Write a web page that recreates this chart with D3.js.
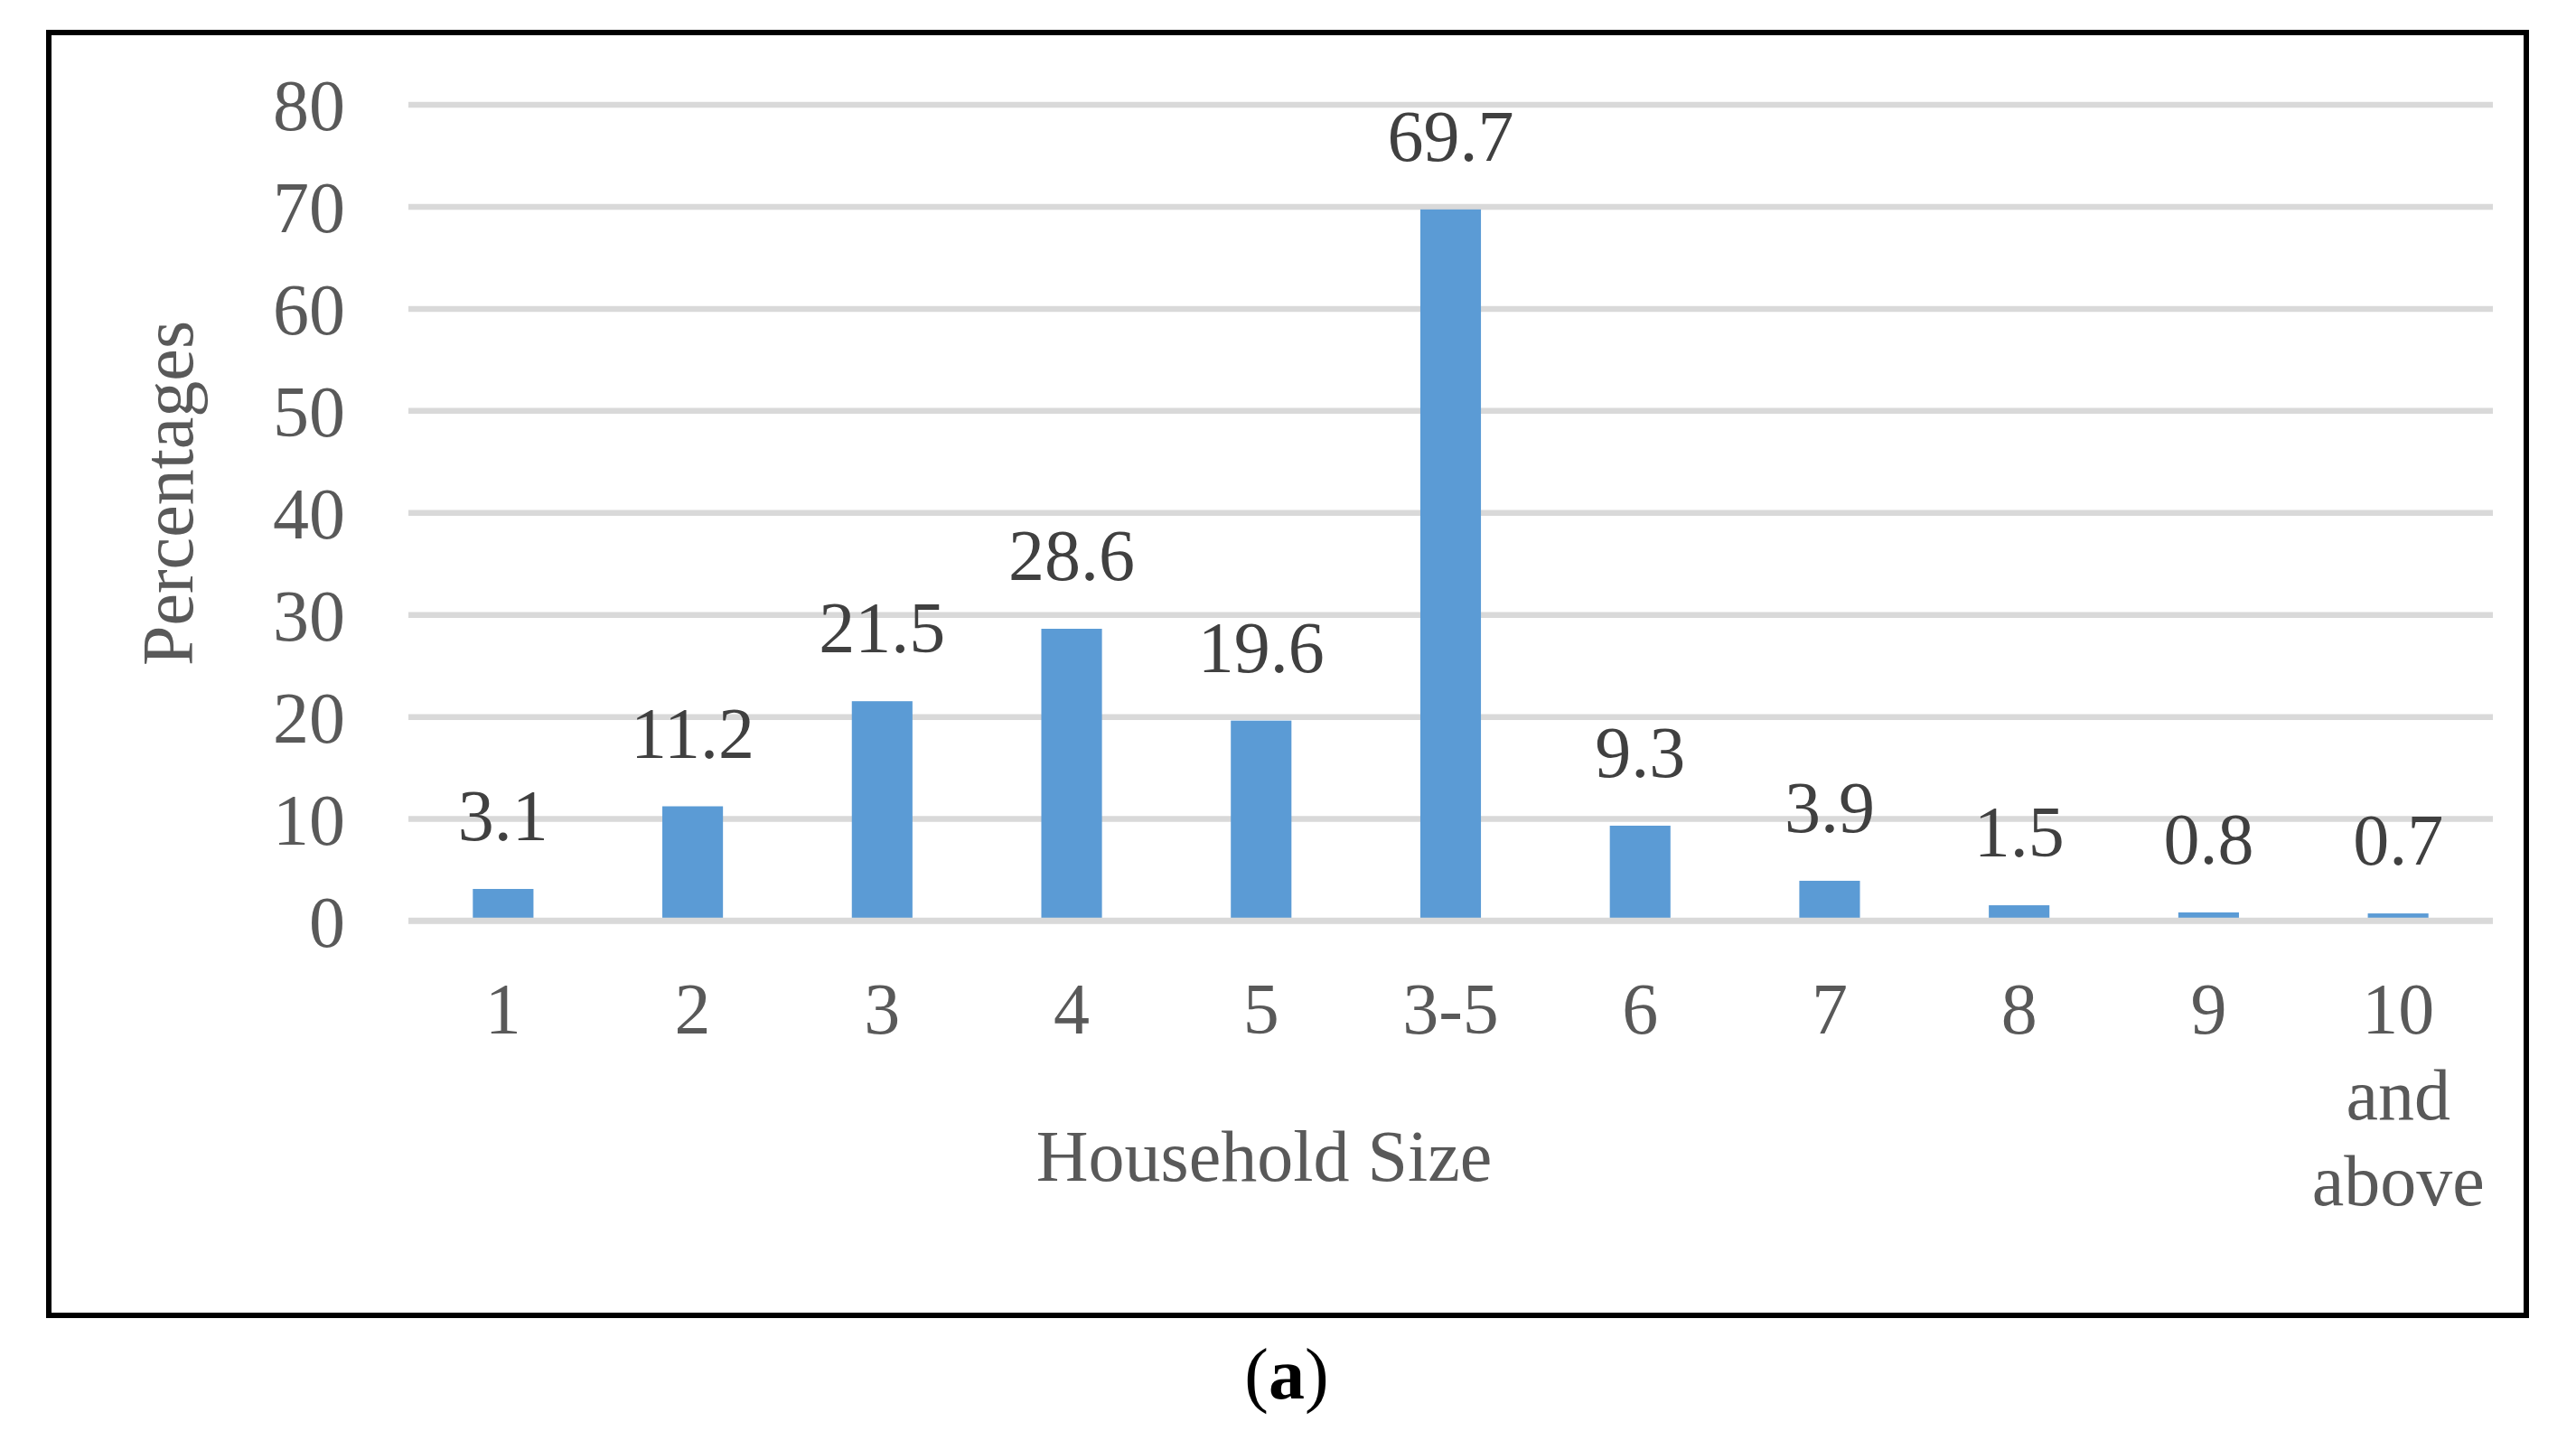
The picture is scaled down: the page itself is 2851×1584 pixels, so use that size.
<!DOCTYPE html>
<html>
<head>
<meta charset="utf-8">
<script src="https://cdn.jsdelivr.net/npm/d3@7"></script>
<style>
  html, body { margin: 0; padding: 0; background: #ffffff; }
  svg { display: block; }
  text { font-family: "Liberation Serif", "Times New Roman", serif; }
</style>
</head>
<body>
<svg id="chart" width="2851" height="1584"></svg>
<script>
// ---- data ----
const categories = ["1", "2", "3", "4", "5", "3-5", "6", "7", "8", "9", "10\nand\nabove"];
const values = [3.1, 11.2, 21.5, 28.6, 19.6, 69.7, 9.3, 3.9, 1.5, 0.8, 0.7];
const valueLabels = ["3.1", "11.2", "21.5", "28.6", "19.6", "69.7", "9.3", "3.9", "1.5", "0.8", "0.7"];
const yTicks = [0, 10, 20, 30, 40, 50, 60, 70, 80];
const yTitle = "Percentages";
const xTitle = "Household Size";
const caption = "a";

// ---- layout ----
const W = 2851, H = 1584;
const plot = { left: 452, right: 2759, top: 115.5, bottom: 1019 };
const fontSize = 80;

const svg = d3.select("#chart");

// frame
svg.append("rect")
  .attr("x", 54).attr("y", 36)
  .attr("width", 2742).attr("height", 1420)
  .attr("fill", "none").attr("stroke", "#000").attr("stroke-width", 6);

const x = d3.scaleBand().domain(categories).range([plot.left, plot.right]).padding(0);
const y = d3.scaleLinear().domain([0, 80]).range([plot.bottom, plot.top]);
const barW = x.bandwidth() * 0.32;

// y axis with gridlines
const yAxis = svg.append("g")
  .attr("transform", `translate(${plot.left},0)`)
  .call(d3.axisLeft(y).tickValues(yTicks).tickSize(-(plot.right - plot.left)).tickPadding(70).tickFormat(d3.format("d")));
yAxis.select(".domain").remove();
yAxis.selectAll(".tick line").attr("stroke", "#d9d9d9").attr("stroke-width", 6.5);
yAxis.selectAll(".tick text")
  .attr("fill", "#595959").attr("font-size", fontSize)
  .attr("font-family", "Liberation Serif, Times New Roman, serif")
  .attr("dy", "0.35em");

// bars
svg.append("g").selectAll("rect")
  .data(values)
  .join("rect")
  .attr("x", (d, i) => x(categories[i]) + (x.bandwidth() - barW) / 2)
  .attr("width", barW)
  .attr("y", d => y(d))
  .attr("height", d => y(0) - y(d))
  .attr("fill", "#5b9bd5");

// baseline over bars
svg.append("line")
  .attr("x1", plot.left).attr("x2", plot.right)
  .attr("y1", y(0)).attr("y2", y(0))
  .attr("stroke", "#d9d9d9").attr("stroke-width", 6.5);

// value labels
svg.append("g").selectAll("text")
  .data(values)
  .join("text")
  .attr("x", (d, i) => x(categories[i]) + x.bandwidth() / 2)
  .attr("y", d => y(d) - 54)
  .attr("text-anchor", "middle")
  .attr("font-size", fontSize)
  .attr("fill", "#404040")
  .text((d, i) => valueLabels[i]);

// x axis (category labels)
const xAxis = svg.append("g")
  .attr("transform", `translate(0,${plot.bottom})`)
  .call(d3.axisBottom(x).tickSize(0).tickPadding(68));
xAxis.select(".domain").remove();
xAxis.selectAll(".tick text")
  .attr("fill", "#595959").attr("font-size", fontSize)
  .attr("font-family", "Liberation Serif, Times New Roman, serif")
  .each(function(d) {
    const t = d3.select(this);
    const lines = d.split("\n");
    t.text(null);
    lines.forEach((ln, i) => {
      t.append("tspan").attr("x", 0).attr("dy", i === 0 ? "0.71em" : "1.19em").text(ln);
    });
  })
  .attr("dy", null);

// axis titles
svg.append("text")
  .attr("transform", "translate(213,546) rotate(-90)")
  .attr("text-anchor", "middle")
  .attr("font-size", fontSize)
  .attr("fill", "#595959")
  .text(yTitle);

svg.append("text")
  .attr("x", 1399).attr("y", 1307)
  .attr("text-anchor", "middle")
  .attr("font-size", fontSize)
  .attr("fill", "#595959")
  .text(xTitle);

// caption
const cap = svg.append("text")
  .attr("x", 1424).attr("y", 1548)
  .attr("text-anchor", "middle")
  .attr("font-size", fontSize)
  .attr("fill", "#000");
cap.append("tspan").text("(");
cap.append("tspan").attr("font-weight", "bold").text(caption);
cap.append("tspan").text(")");
</script>
</body>
</html>
